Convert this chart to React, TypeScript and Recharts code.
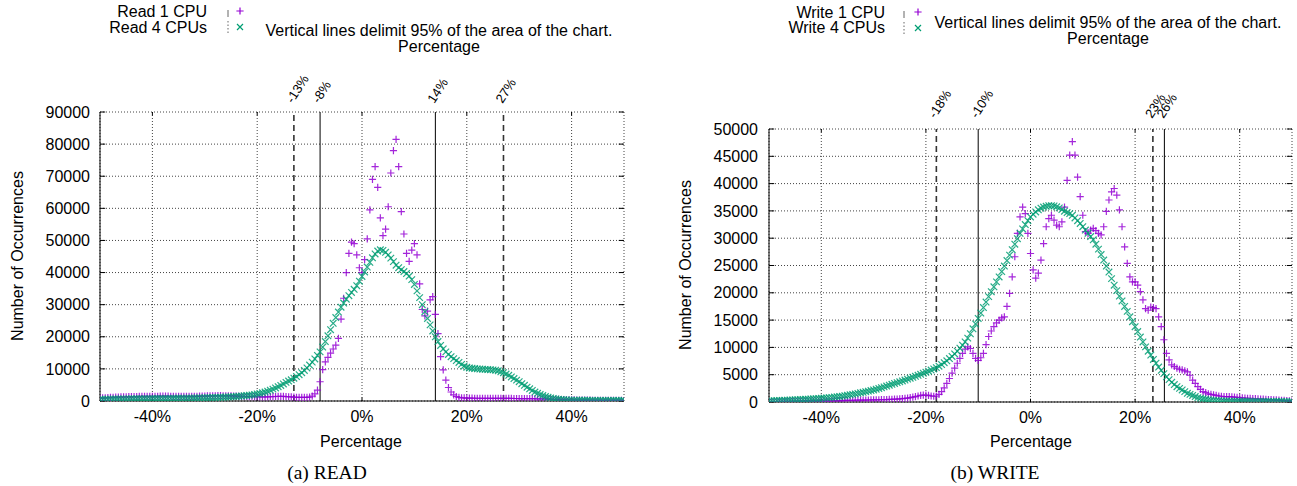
import React from 'react';
import { ScatterChart, Scatter, XAxis, YAxis, CartesianGrid, ReferenceLine } from 'recharts';

// Histogram bins: -50% .. 50% in 0.5% steps
const X_START = -50;
const X_STEP = 0.5;

const READ_1CPU = [
  900, 950, 1000, 1050, 1100, 1150, 1200, 1250, 1280, 1300,
  1320, 1340, 1360, 1380, 1400, 1420, 1430, 1440, 1450, 1460,
  1470, 1480, 1480, 1490, 1500, 1500, 1490, 1480, 1470, 1460,
  1450, 1440, 1430, 1420, 1420, 1430, 1450, 1470, 1500, 1520,
  1550, 1580, 1600, 1620, 1640, 1650, 1650, 1640, 1620, 1600,
  1570, 1540, 1510, 1480, 1450, 1420, 1400, 1380, 1360, 1340,
  1320, 1300, 1290, 1280, 1290, 1320, 1360, 1400, 1430, 1440,
  1420, 1380, 1320, 1260, 1200, 1160, 1130, 1110, 1100, 1100,
  1200, 1500, 2200, 3400, 6000, 9800, 12200, 13600, 14900, 16200,
  17400, 19500, 25500, 32000, 40000, 46000, 49500, 49000, 45500, 41500,
  40000, 44000, 50500, 59500, 69000, 73000, 66500, 57000, 51500, 53500,
  60500, 71000, 78000, 81500, 73000, 59000, 52000, 46000, 43500, 47000,
  49000, 45500, 36500, 28500, 26500, 28000, 31500, 32500, 27000, 21000,
  13800, 9700, 6500, 4200, 2800, 1900, 1400, 1150, 1000, 950,
  900, 880, 870, 860, 850, 850, 840, 840, 830, 830,
  820, 820, 810, 810, 800, 800, 790, 790, 780, 780,
  770, 760, 750, 740, 730, 720, 700, 680, 660, 640,
  620, 600, 570, 540, 510, 480, 450, 420, 390, 360,
  340, 320, 300, 290, 280, 270, 260, 250, 240, 230,
  220, 210, 200, 200, 190, 190, 180, 180, 170, 170,
  160,
];

const READ_4CPU = [
  500, 520, 540, 560, 580, 600, 610, 620, 630, 640,
  650, 660, 670, 680, 690, 700, 710, 720, 730, 740,
  750, 760, 770, 780, 790, 800, 810, 820, 830, 840,
  850, 860, 870, 880, 890, 900, 920, 940, 960, 980,
  1000, 1020, 1040, 1060, 1090, 1120, 1150, 1190, 1230, 1270,
  1320, 1370, 1420, 1480, 1550, 1620, 1700, 1800, 1900, 2020,
  2200, 2350, 2550, 2800, 3050, 3350, 3700, 4050, 4450, 4850,
  5300, 5800, 6200, 6600, 7100, 7600, 8200, 8800, 9500, 10300,
  11200, 12100, 13100, 14200, 15300, 16800, 18500, 20300, 22200, 24200,
  26000, 27700, 29200, 30500, 31700, 32800, 33800, 34800, 35900, 37300,
  38800, 40200, 41700, 43200, 44600, 45800, 46700, 47100, 46900, 46300,
  45500, 44500, 43400, 42300, 41500, 40900, 40300, 39700, 38900, 37800,
  36300, 34300, 32200, 30000, 27800, 25700, 23700, 21800, 20000, 18500,
  17300, 16200, 15300, 14500, 13800, 13200, 12600, 12000, 11400, 10900,
  10500, 10300, 10200, 10100, 10000, 9950, 9900, 9850, 9800, 9750,
  9700, 9600, 9400, 9100, 8800, 8400, 8000, 7500, 7000, 6500,
  6000, 5400, 4900, 4300, 3800, 3300, 2800, 2400, 2000, 1700,
  1400, 1150, 950, 780, 640, 530, 450, 390, 340, 300,
  280, 260, 250, 240, 230, 220, 210, 200, 200, 190,
  190, 180, 180, 170, 170, 160, 160, 150, 150, 150,
  150,
];

const WRITE_1CPU = [
  80, 85, 90, 95, 100, 105, 110, 115, 120, 125,
  130, 135, 140, 145, 150, 155, 160, 165, 170, 180,
  190, 200, 210, 220, 230, 240, 250, 260, 270, 280,
  290, 300, 310, 320, 330, 340, 350, 360, 370, 380,
  390, 400, 410, 420, 430, 450, 470, 490, 510, 530,
  560, 600, 650, 720, 800, 900, 1000, 1100, 1200, 1250,
  1250, 1200, 1100, 1050, 1100, 1400, 1900, 2600, 3400, 4300,
  5300, 6200, 7100, 8000, 8900, 9700, 10100, 9800, 8900, 8000,
  7600, 8100, 8900, 10500, 12000, 13000, 13800, 14500, 15000, 15400,
  15600, 17500, 19900, 22900, 26600, 30900, 33900, 35700, 34500, 30900,
  27200, 24200, 22700, 23600, 26000, 29000, 32100, 33600, 34200, 33300,
  32400, 32100, 33000, 35700, 40600, 45200, 47700, 45200, 41200, 37600,
  34200, 31200, 30900, 31500, 31800, 31400, 30900, 30600, 32100, 34900,
  37000, 38500, 39100, 37900, 35200, 32100, 28400, 25400, 22900, 22000,
  22000, 21400, 20200, 18700, 17100, 16800, 17400, 17300, 17100, 15600,
  13800, 11400, 8900, 7700, 6800, 6500, 6200, 6000, 5900, 5700,
  5500, 4900, 4000, 3400, 2800, 2300, 1900, 1700, 1500, 1400,
  1300, 1200, 1100, 1050, 1000, 1000, 1000, 950, 900, 850,
  800, 760, 720, 690, 660, 630, 600, 570, 540, 510,
  480, 450, 420, 400, 380, 350, 320, 290, 260, 230,
  200,
];

const WRITE_4CPU = [
  200, 220, 240, 260, 280, 300, 320, 340, 360, 380,
  400, 420, 440, 460, 490, 520, 550, 580, 610, 640,
  680, 720, 760, 800, 850, 900, 950, 1010, 1080, 1150,
  1230, 1310, 1400, 1490, 1580, 1680, 1780, 1880, 1990, 2100,
  2200, 2340, 2480, 2620, 2770, 2920, 3080, 3240, 3400, 3550,
  3700, 3860, 4020, 4190, 4360, 4530, 4710, 4890, 5080, 5270,
  5450, 5650, 5850, 6050, 6300, 6550, 6850, 7200, 7550, 7950,
  8350, 8800, 9300, 9850, 10400, 11000, 11700, 12500, 13400, 14300,
  15300, 16300, 17300, 18300, 19300, 20200, 21100, 22000, 22900, 23900,
  24900, 25900, 26900, 27900, 28900, 29900, 30900, 31700, 32500, 33200,
  33900, 34400, 34800, 35200, 35500, 35700, 35850, 35950, 35950, 35900,
  35750, 35550, 35250, 34950, 34700, 34500, 34200, 33700, 33200, 32700,
  32100, 31500, 30900, 30300, 29700, 28900, 28000, 27000, 26000, 24900,
  23800, 22600, 21400, 20400, 19400, 18500, 17500, 16600, 15600, 14700,
  13800, 12900, 11900, 11000, 10100, 9300, 8600, 7800, 7100, 6400,
  5800, 5200, 4600, 4100, 3600, 3200, 2800, 2500, 2200, 1900,
  1600, 1400, 1200, 1000, 800, 700, 600, 500, 400, 350,
  300, 260, 230, 200, 180, 170, 160, 150, 150, 140,
  140, 130, 130, 120, 120, 110, 110, 100, 100, 100,
  100, 90, 90, 90, 80, 80, 80, 70, 70, 70,
  70,
];

const X_TICKS = [-40, -20, 0, 20, 40];
const READ_Y_TICKS = [0, 10000, 20000, 30000, 40000, 50000, 60000, 70000, 80000, 90000];
const WRITE_Y_TICKS = [0, 5000, 10000, 15000, 20000, 25000, 30000, 35000, 40000, 45000, 50000];

const READ_MARKS = [
  { x: -13, label: '-13%', dashed: true },
  { x: -8, label: '-8%', dashed: false },
  { x: 14, label: '14%', dashed: false },
  { x: 27, label: '27%', dashed: true },
];
const WRITE_MARKS = [
  { x: -18, label: '-18%', dashed: true },
  { x: -10, label: '-10%', dashed: false },
  { x: 23.4, label: '23%', dashed: true },
  { x: 25.6, label: '26%', dashed: false },
];

const BINS = READ_1CPU.map((_, i) => X_START + i * X_STEP);

const FONT = "'Liberation Sans', Arial, Helvetica, sans-serif";
const SERIF = "'Liberation Serif', 'Times New Roman', Times, serif";
const PURPLE = '#9400D3';
const GREEN = '#009E73';

const plusShape = (props: any) => {
  const { cx, cy } = props;
  if (cx == null || cy == null) return <g />;
  const h = 3.6;
  return (
    <path
      d={`M${cx - h},${cy}H${cx + h}M${cx},${cy - h}V${cy + h}`}
      stroke={PURPLE}
      strokeWidth={1.2}
      strokeOpacity={0.85}
      fill="none"
    />
  );
};

const crossShape = (props: any) => {
  const { cx, cy } = props;
  if (cx == null || cy == null) return <g />;
  const h = 3.3;
  return (
    <path
      d={`M${cx - h},${cy - h}L${cx + h},${cy + h}M${cx - h},${cy + h}L${cx + h},${cy - h}`}
      stroke={GREEN}
      strokeWidth={1.2}
      strokeOpacity={0.85}
      fill="none"
    />
  );
};

type Mark = { x: number; label: string; dashed: boolean };

type PanelProps = {
  left: number;
  width: number;
  margin: { top: number; right: number; bottom: number; left: number };
  yMax: number;
  yTicks: number[];
  one: number[];
  four: number[];
  marks: Mark[];
  labelOffset: number;
  yTickMargin: number;
};

function Panel({ left, width, margin, yMax, yTicks, one, four, marks, labelOffset, yTickMargin }: PanelProps) {
  const oneData = BINS.map((x, i) => ({ x, y: one[i] }));
  const fourData = BINS.map((x, i) => ({ x, y: four[i] }));
  const tickH = yMax * 0.012;
  return (
    <div style={{ position: 'absolute', left, top: 0 }}>
      <ScatterChart width={width} height={486} margin={margin}>
        <CartesianGrid stroke="#444" strokeDasharray="1 2" strokeWidth={1} />
        <XAxis
          type="number"
          dataKey="x"
          domain={[-50, 50]}
          ticks={X_TICKS}
          interval={0}
          allowDataOverflow
          tickFormatter={(v: number) => `${v}%`}
          tickLine={false}
          tickSize={0}
          tickMargin={10}
          height={30}
          axisLine={{ stroke: '#000', strokeWidth: 1 }}
          tick={{ fontSize: 16, fill: '#000', fontFamily: FONT }}
        />
        <YAxis
          type="number"
          dataKey="y"
          domain={[0, yMax]}
          ticks={yTicks}
          interval={0}
          allowDataOverflow
          tickFormatter={(v: number) => String(v)}
          tickLine={false}
          tickSize={0}
          tickMargin={yTickMargin}
          width={60}
          axisLine={{ stroke: '#000', strokeWidth: 1 }}
          tick={{ fontSize: 16, fill: '#000', fontFamily: FONT }}
        />
        {yTicks.map((v) => (
          <ReferenceLine key={`yr${v}`} segment={[{ x: 49, y: v }, { x: 50, y: v }]} stroke="#000" strokeWidth={1} />
        ))}
        {yTicks.map((v) => (
          <ReferenceLine key={`yl${v}`} segment={[{ x: -50, y: v }, { x: -49, y: v }]} stroke="#000" strokeWidth={1} />
        ))}
        {X_TICKS.map((v) => (
          <ReferenceLine key={`xt${v}`} segment={[{ x: v, y: yMax }, { x: v, y: yMax - tickH }]} stroke="#000" strokeWidth={1} />
        ))}
        {X_TICKS.map((v) => (
          <ReferenceLine key={`xb${v}`} segment={[{ x: v, y: 0 }, { x: v, y: tickH }]} stroke="#000" strokeWidth={1} />
        ))}
        <Scatter name="1 CPU" data={oneData} shape={plusShape} isAnimationActive={false} />
        <Scatter name="4 CPUs" data={fourData} shape={crossShape} isAnimationActive={false} />
        {marks.map((m) => (
          <ReferenceLine
            key={`m${m.label}`}
            x={m.x}
            stroke={m.dashed ? '#333' : '#000'}
            strokeWidth={m.dashed ? 1.6 : 1}
            strokeDasharray={m.dashed ? '6 4' : undefined}
            label={(p: any) => {
              const vb = (p && p.viewBox) || {};
              const lx = (vb.x ?? 0) - 1;
              const ly = (vb.y ?? 0) - labelOffset;
              return (
                <text
                  x={lx}
                  y={ly}
                  transform={`rotate(-57, ${lx}, ${ly})`}
                  fontSize={13}
                  fontFamily={FONT}
                  fill="#000"
                  textAnchor="start"
                >
                  {m.label}
                </text>
              );
            }}
          />
        ))}
      </ScatterChart>
    </div>
  );
}

function LegendMarks({ lx, mx, y1, y2 }: { lx: number; mx: number; y1: number; y2: number }) {
  return (
    <g>
      <line x1={lx} y1={y1 - 1} x2={lx} y2={y1 + 6} stroke="#666" strokeWidth={1} />
      <path d={`M${mx - 3.6},${y1}H${mx + 3.6}M${mx},${y1 - 3.6}V${y1 + 3.6}`} stroke={PURPLE} strokeWidth={1.2} fill="none" />
      <line x1={lx} y1={y2 - 6} x2={lx} y2={y2 + 7} stroke="#666" strokeWidth={1} strokeDasharray="1.5 2" />
      <path d={`M${mx - 3},${y2 - 3}L${mx + 3},${y2 + 3}M${mx - 3},${y2 + 3}L${mx + 3},${y2 - 3}`} stroke={GREEN} strokeWidth={1.2} fill="none" />
    </g>
  );
}

export default function App() {
  const t = { fontFamily: FONT, fill: '#000', dominantBaseline: 'central' as const };
  return (
    <div style={{ position: 'absolute', left: 0, top: 0, width: 1297, height: 486, background: '#fff', overflow: 'hidden' }}>
      <Panel
        left={0}
        width={640}
        margin={{ top: 112, right: 16, bottom: 55, left: 40 }}
        yMax={90000}
        yTicks={READ_Y_TICKS}
        one={READ_1CPU}
        four={READ_4CPU}
        marks={READ_MARKS}
        labelOffset={8}
        yTickMargin={10}
      />
      <Panel
        left={650}
        width={647}
        margin={{ top: 129, right: 5, bottom: 54, left: 59 }}
        yMax={50000}
        yTicks={WRITE_Y_TICKS}
        one={WRITE_1CPU}
        four={WRITE_4CPU}
        marks={WRITE_MARKS}
        labelOffset={10}
        yTickMargin={11}
      />
      <svg width={1297} height={486} style={{ position: 'absolute', left: 0, top: 0, pointerEvents: 'none' }}>
        {/* READ panel texts */}
        <text {...t} x={207} y={11} fontSize={16} textAnchor="end">Read 1 CPU</text>
        <text {...t} x={207} y={27} fontSize={16} textAnchor="end">Read 4 CPUs</text>
        <LegendMarks lx={228} mx={240} y1={11} y2={27} />
        <text {...t} x={439} y={30} fontSize={16} textAnchor="middle">Vertical lines delimit 95% of the area of the chart.</text>
        <text {...t} x={439} y={46} fontSize={16} textAnchor="middle">Percentage</text>
        <text {...t} x={17} y={256} fontSize={16} textAnchor="middle" transform="rotate(-90, 17, 256)">Number of Occurrences</text>
        <text {...t} x={361} y={441} fontSize={16} textAnchor="middle">Percentage</text>
        <text fontFamily={SERIF} fill="#000" dominantBaseline="central" x={327} y={472} fontSize={19.5} textAnchor="middle">(a) READ</text>

        {/* WRITE panel texts */}
        <text {...t} x={885} y={12} fontSize={16} textAnchor="end">Write 1 CPU</text>
        <text {...t} x={885} y={27} fontSize={16} textAnchor="end">Write 4 CPUs</text>
        <LegendMarks lx={904} mx={918} y1={12} y2={28} />
        <text {...t} x={1108} y={22} fontSize={16} textAnchor="middle">Vertical lines delimit 95% of the area of the chart.</text>
        <text {...t} x={1108} y={38} fontSize={16} textAnchor="middle">Percentage</text>
        <text {...t} x={685} y={265} fontSize={16} textAnchor="middle" transform="rotate(-90, 685, 265)">Number of Occurrences</text>
        <text {...t} x={1031} y={441} fontSize={16} textAnchor="middle">Percentage</text>
        <text fontFamily={SERIF} fill="#000" dominantBaseline="central" x={995} y={472} fontSize={19.5} textAnchor="middle">(b) WRITE</text>
      </svg>
    </div>
  );
}
